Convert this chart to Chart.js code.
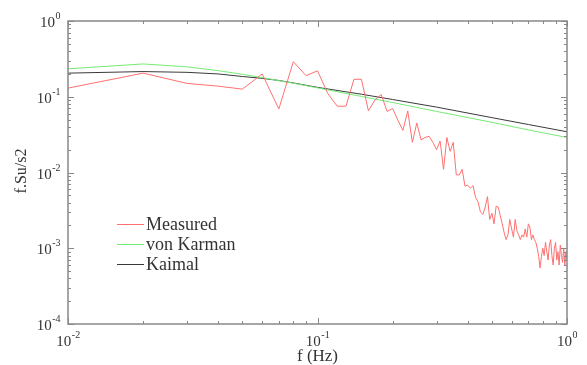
<!DOCTYPE html>
<html>
<head>
<meta charset="utf-8">
<script src="https://cdn.jsdelivr.net/npm/chart.js@4.4.0/dist/chart.umd.min.js"></script>
<style>
body{margin:0;background:#fff;}
canvas{display:block;}
</style>
</head>
<body>
<canvas id="c" width="587" height="365"></canvas>
<script>
/* ================= DATA ================= */

const measFreq=[0.01,0.02,0.03,0.04,0.05,0.06,0.07,0.08,0.09,0.10,
0.11,0.12,0.13,0.14,0.15,0.16,0.17,0.18,0.19,0.20,
0.21,0.22,0.23,0.24,0.25,0.26,0.27,0.28,0.29,0.30,
0.31,0.32,0.33,0.34,0.35,0.36,0.37,0.38,0.39,0.40,
0.41,0.42,0.43,0.44,0.45,0.46,0.47,0.48,0.49,0.50,
0.51,0.52,0.53,0.54,0.55,0.56,0.57,0.58,0.59,0.60,
0.61,0.62,0.63,0.64,0.65,0.66,0.67,0.68,0.69,0.70,
0.71,0.72,0.73,0.74,0.75,0.76,0.77,0.78,0.79,0.80,
0.81,0.82,0.83,0.84,0.85,0.86,0.87,0.88,0.89,0.90,
0.91,0.92,0.93,0.94,0.95,0.96,0.97,0.98,0.99,1.00];

const measured=[0.13,0.205,0.15,0.138,0.126,0.2,0.069,0.29,0.19,0.22,
0.11,0.075,0.075,0.17,0.17,0.065,0.091,0.107,0.064,0.07,
0.049,0.036,0.065,0.025,0.045,0.027,0.029,0.03,0.025,0.02,
0.026,0.011,0.029,0.019,0.025,0.0093,0.0093,0.011,0.0066,0.0068,
0.0062,0.0067,0.0047,0.0041,0.003,0.0028,0.0035,0.0048,0.0024,0.0029,
0.0021,0.0036,0.0035,0.0027,0.0021,0.0016,0.0013,0.0015,0.0024,0.0018,
0.0014,0.0024,0.0017,0.0015,0.0013,0.0015,0.0014,0.0018,0.0014,0.0021,
0.0019,0.0013,0.0015,0.0013,0.0012,0.001,0.00078,0.00055,0.00078,0.001,
0.0008,0.0012,0.0009,0.0007,0.0011,0.0013,0.0008,0.0006,0.001,0.0012,
0.0007,0.0009,0.0006,0.0011,0.0008,0.00065,0.001,0.0006,0.0009,0.0007];

const modelFreq=[0.01,0.02,0.03,0.04,0.05,0.06,0.07,0.08,0.1,0.15,0.2,0.3,0.5,0.7,1];
const vonKarman=[0.234,0.271,0.248,0.221,0.198,0.179,0.163,0.151,0.131,0.101,0.084,0.064,0.046,0.0365,0.029];
const kaimal=[0.205,0.215,0.21,0.2,0.185,0.175,0.164,0.152,0.133,0.108,0.092,0.073,0.053,0.043,0.0345];

const xTicks=[0.01,0.1,1];
const xTickExp=["-2","-1","0"];
const yTicks=[1,0.1,0.01,0.001,0.0001];
const yTickExp=["0","-1","-2","-3","-4"];

const seriesNames=["Measured","von Karman","Kaimal"];
const seriesColors=["#ff7070","#74ec74","#3a3a3a"];

/* ================= HELPERS ================= */

function pairs(xs,ys){
return xs.map((x,i)=>({x:x,y:ys[i]}));
}

const FONT="Liberation Serif, Times New Roman, serif";
const TXT="#333";

function drawPow(ctx,exp,x,y,align){
ctx.font="15px "+FONT;
let wb=ctx.measureText("10").width;
ctx.font="10px "+FONT;
let we=ctx.measureText(exp).width;
let left=x;
if(align==="right") left=x-wb-we;
if(align==="center") left=x-(wb+we)/2;
ctx.textAlign="left";
ctx.textBaseline="alphabetic";
ctx.fillStyle=TXT;
ctx.font="15px "+FONT;
ctx.fillText("10",left,y);
ctx.font="10px "+FONT;
ctx.fillText(exp,left+wb+0.5,y-8);
}

/* frame, inward ticks, labels, legend */
const decor={
id:"decor",
afterDraw(chart){
const ctx=chart.ctx;
const a=chart.chartArea;
const sx=chart.scales.x, sy=chart.scales.y;
ctx.save();

ctx.strokeStyle="#888";
ctx.lineWidth=1.5;
ctx.strokeRect(a.left,a.top,a.right-a.left,a.bottom-a.top);

ctx.lineWidth=1;
ctx.strokeStyle="#888";
ctx.beginPath();
for(let e=-2;e<=0;e++){
for(let m=1;m<10;m++){
let v=m*Math.pow(10,e);
if(v>1.0001) continue;
let px=Math.round(sx.getPixelForValue(v))+0.5;
let len=m===1?6:3;
ctx.moveTo(px,a.bottom);ctx.lineTo(px,a.bottom-len);
ctx.moveTo(px,a.top);ctx.lineTo(px,a.top+len);
}
}
for(let e=-4;e<=0;e++){
for(let m=1;m<10;m++){
let v=m*Math.pow(10,e);
if(v>1.0001) continue;
let py=Math.round(sy.getPixelForValue(v))+0.5;
let len=m===1?6:3;
ctx.moveTo(a.left,py);ctx.lineTo(a.left+len,py);
ctx.moveTo(a.right,py);ctx.lineTo(a.right-len,py);
}
}
ctx.stroke();

xTicks.forEach((v,i)=>{
drawPow(ctx,xTickExp[i],sx.getPixelForValue(v),a.bottom+22,"center");
});
yTicks.forEach((v,i)=>{
drawPow(ctx,yTickExp[i],a.left-8,sy.getPixelForValue(v)+6,"right");
});

ctx.fillStyle=TXT;
ctx.font="17px "+FONT;
ctx.textAlign="center";
ctx.textBaseline="alphabetic";
ctx.fillText("f (Hz)",(a.left+a.right)/2,a.bottom+37);

ctx.save();
ctx.translate(26,171);
ctx.rotate(-Math.PI/2);
ctx.font="16px "+FONT;
ctx.fillText("f.Su/s2",0,0);
ctx.restore();

seriesNames.forEach((n,i)=>{
let y=224+i*20;
ctx.strokeStyle=seriesColors[i];
ctx.lineWidth=1;
ctx.beginPath();
ctx.moveTo(117,y+0.5);ctx.lineTo(144,y+0.5);
ctx.stroke();
ctx.fillStyle=TXT;
ctx.textAlign="left";
ctx.textBaseline="middle";
ctx.font="18px "+FONT;
ctx.fillText(n,146,y+1);
});

ctx.restore();
}
};

/* ================= CHART ================= */

new Chart(document.getElementById("c"),{
type:"line",
data:{
datasets:[
{label:seriesNames[0],data:pairs(measFreq,measured),borderColor:seriesColors[0],borderWidth:1,pointRadius:0,tension:0},
{label:seriesNames[1],data:pairs(modelFreq,vonKarman),borderColor:seriesColors[1],borderWidth:1,pointRadius:0,tension:0},
{label:seriesNames[2],data:pairs(modelFreq,kaimal),borderColor:seriesColors[2],borderWidth:1,pointRadius:0,tension:0}
]
},
options:{
responsive:false,
animation:false,
devicePixelRatio:1,
layout:{padding:{left:68,right:20,top:21,bottom:41}},
plugins:{legend:{display:false},tooltip:{enabled:false}},
scales:{
x:{type:"logarithmic",min:0.01,max:1,display:false},
y:{type:"logarithmic",min:0.0001,max:1,display:false}
}
},
plugins:[decor]
});
</script>
</body>
</html>
